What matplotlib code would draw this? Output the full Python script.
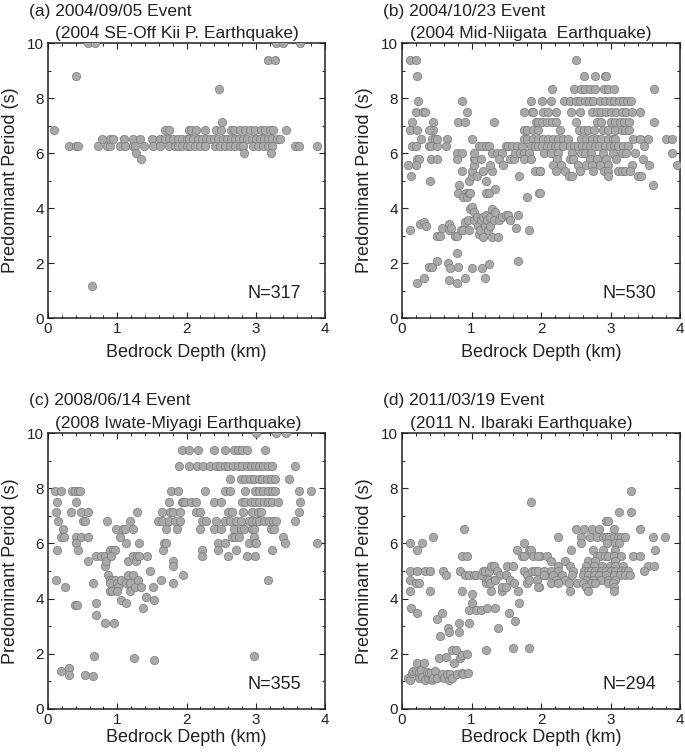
import matplotlib
matplotlib.use("Agg")
import matplotlib.pyplot as plt
from matplotlib.ticker import MultipleLocator

plt.rcParams['font.family'] = ['Liberation Sans', 'DejaVu Sans']

# (bedrock depth km, predominant period s)
pts_a = [
    (0.09, 6.82), (0.30, 6.25), (0.40, 6.25), (0.44, 6.25), (0.40, 8.82), (0.64, 1.15), (0.58, 10.0), (0.68, 10.0),
    (0.72, 6.25), (0.78, 6.52), (0.85, 6.25), (0.89, 6.25), (0.90, 6.52), (0.94, 6.52), (1.04, 6.25), (1.09, 6.52),
    (1.11, 6.25), (1.22, 6.25), (1.23, 6.52), (1.25, 6.25), (1.27, 6.0), (1.33, 6.52), (1.34, 5.77), (1.38, 6.25),
    (1.50, 6.52), (1.52, 6.25), (1.61, 6.52), (1.61, 6.25), (1.69, 6.52), (1.69, 6.82), (1.75, 6.52), (1.75, 6.82),
    (1.75, 6.25), (1.81, 6.52), (1.84, 6.25), (1.87, 6.52), (1.87, 6.25), (1.94, 6.52), (1.94, 6.25), (2.00, 6.52),
    (2.00, 6.25), (2.03, 6.82),
    (2.06, 6.82), (2.14, 6.82), (2.27, 6.82), (2.42, 6.82), (2.50, 6.82), (2.64, 6.82), (2.69, 6.82), (2.77, 6.82),
    (2.84, 6.82), (2.91, 6.82), (2.99, 6.82), (3.07, 6.82), (3.13, 6.82), (3.20, 6.82), (3.25, 6.82), (3.43, 6.82),
    (2.03, 6.52), (2.10, 6.52), (2.16, 6.52), (2.22, 6.52), (2.28, 6.52), (2.34, 6.52), (2.40, 6.52), (2.46, 6.52),
    (2.52, 6.52), (2.58, 6.52), (2.64, 6.52), (2.70, 6.52), (2.76, 6.52), (2.82, 6.52), (2.88, 6.52), (2.94, 6.52),
    (3.00, 6.52), (3.06, 6.52), (3.12, 6.52), (3.18, 6.52), (3.24, 6.52), (3.30, 6.52), (3.35, 6.52),
    (2.05, 6.25), (2.12, 6.25), (2.19, 6.25), (2.27, 6.25), (2.41, 6.25), (2.48, 6.25), (2.55, 6.25), (2.63, 6.25),
    (2.70, 6.25), (2.77, 6.25), (2.82, 6.25), (2.96, 6.25), (3.03, 6.25), (3.11, 6.25), (3.18, 6.25), (3.24, 6.25),
    (3.56, 6.25), (3.62, 6.25), (3.88, 6.25),
    (2.83, 6.0), (3.22, 6.0), (2.51, 7.14), (2.47, 8.33), (3.17, 9.38), (3.28, 9.38),
    (3.29, 10.0), (3.40, 10.0), (3.64, 10.0),
]

pts_b = [
    (0.12, 9.38), (0.20, 9.38), (0.21, 8.82), (0.23, 7.89), (0.20, 7.5), (0.30, 7.5), (0.33, 7.5), (0.14, 7.14),
    (0.12, 6.82), (0.22, 6.82), (0.14, 6.25), (0.20, 6.25), (0.27, 6.52), (0.21, 5.77), (0.24, 5.77), (0.20, 5.56),
    (0.09, 5.56), (0.13, 5.17), (0.45, 6.82), (0.39, 6.82), (0.45, 7.14), (0.43, 6.52), (0.47, 6.52), (0.39, 6.25),
    (0.42, 6.25), (0.51, 6.25), (0.50, 6.52), (0.42, 5.77), (0.51, 5.77), (0.40, 5.0), (0.65, 6.52), (0.63, 6.25),
    (0.12, 3.2), (0.26, 3.41), (0.31, 3.49), (0.34, 3.33), (0.21, 1.29), (0.31, 1.45), (0.39, 1.84), (0.43, 1.87),
    (0.50, 2.06), (0.50, 3.0), (0.55, 3.0), (0.57, 3.26), (0.67, 3.41), (0.68, 3.19), (0.71, 3.26), (0.76, 3.0),
    (0.79, 3.0), (0.66, 2.0), (0.69, 1.81), (0.67, 1.37), (0.79, 2.36), (0.80, 1.87), (0.79, 1.29), (0.90, 1.45),
    (0.80, 7.14), (0.87, 7.89), (0.91, 7.14), (0.93, 7.5), (0.79, 6.0), (0.87, 6.0), (0.79, 5.77), (0.82, 4.84),
    (0.80, 4.55), (0.92, 4.55), (0.87, 5.36), (0.88, 4.41), (0.93, 4.41), (0.96, 4.55), (0.98, 4.55), (0.96, 5.0),
    (1.00, 5.17), (1.01, 5.36), (1.03, 5.77), (1.04, 5.56), (1.05, 5.77), (1.08, 5.17), (1.00, 6.52), (1.04, 6.0),
    (1.11, 6.25), (1.15, 6.25), (1.21, 6.25), (1.25, 6.25), (1.14, 5.77), (1.17, 5.36), (1.21, 5.0), (1.21, 4.55),
    (1.25, 4.55), (1.30, 5.36), (1.27, 5.56), (1.29, 6.0), (1.32, 7.14), (1.34, 4.69), (1.37, 6.0), (1.44, 6.0),
    (1.39, 5.77), (1.46, 5.56), (1.49, 6.25), (1.53, 6.25), (1.58, 6.25), (1.65, 6.25), (1.56, 5.77), (1.61, 5.77),
    (1.63, 6.0), (1.69, 5.17), (1.73, 6.0), (1.70, 6.0),
    (0.85, 3.19), (0.88, 3.19), (0.91, 3.49), (0.95, 3.57), (0.96, 3.19), (0.98, 3.95), (1.00, 4.05), (1.03, 3.85),
    (1.04, 3.57), (1.08, 3.66), (1.09, 3.33), (1.11, 3.06), (1.12, 3.19), (1.14, 3.57), (1.16, 3.66), (1.17, 2.94),
    (1.20, 3.33), (1.21, 3.75), (1.22, 3.57), (1.24, 3.19), (1.26, 3.33), (1.27, 3.66), (1.29, 2.94), (1.30, 3.95),
    (1.32, 3.57), (1.34, 3.85), (1.38, 2.94), (1.40, 3.57), (1.44, 3.66), (1.49, 3.75), (1.52, 3.75), (1.56, 3.57),
    (1.64, 3.26), (1.67, 3.75), (1.82, 3.19), (1.80, 4.41), (1.97, 4.55), (1.67, 2.06), (1.01, 1.81), (1.15, 1.81),
    (1.20, 1.45), (1.25, 1.96),
    (1.73, 6.25), (1.75, 6.52), (1.80, 6.52), (1.76, 6.82), (1.80, 6.82), (1.76, 7.5), (1.86, 7.89), (1.87, 7.5),
    (1.89, 7.5), (1.93, 7.14), (1.89, 6.82), (1.89, 6.52), (1.85, 6.25), (1.92, 6.25), (1.76, 6.0), (1.82, 6.0),
    (1.76, 5.77), (1.85, 5.77), (1.92, 5.36), (1.98, 5.36),
    (2.51, 9.38), (2.62, 8.82), (2.77, 8.82), (2.92, 8.82), (2.94, 8.82),
    (2.16, 8.33), (2.48, 8.33), (2.57, 8.33), (2.63, 8.33), (2.70, 8.33), (2.78, 8.33), (2.91, 8.33), (2.97, 8.33),
    (3.05, 8.33), (3.63, 8.33),
    (2.01, 7.89), (2.15, 7.89), (2.33, 7.89), (2.41, 7.89), (2.50, 7.89), (2.56, 7.89), (2.63, 7.89), (2.69, 7.89),
    (2.75, 7.89), (2.85, 7.89), (2.92, 7.89), (2.99, 7.89), (3.05, 7.89), (3.12, 7.89), (3.18, 7.89), (3.24, 7.89),
    (3.29, 7.89),
    (2.03, 7.5), (2.10, 7.5), (2.21, 7.5), (2.43, 7.5), (2.56, 7.5), (2.73, 7.5), (2.80, 7.5), (2.87, 7.5),
    (2.94, 7.5), (3.01, 7.5), (3.08, 7.5), (3.16, 7.5), (3.23, 7.5), (3.31, 7.5), (3.43, 7.5),
    (1.96, 7.14), (2.01, 7.14), (2.08, 7.14), (2.16, 7.14), (2.22, 7.14), (2.51, 7.14), (2.81, 7.14), (2.87, 7.14),
    (3.00, 7.14), (3.07, 7.14), (3.13, 7.14), (3.20, 7.14), (3.26, 7.14), (3.63, 7.14),
    (1.96, 6.82), (2.27, 6.82), (2.54, 6.82), (2.62, 6.82), (2.68, 6.82), (2.76, 6.82), (2.89, 6.82), (2.96, 6.82),
    (3.06, 6.82), (3.16, 6.82), (3.21, 6.82), (3.26, 6.82),
    (1.96, 6.52), (2.03, 6.52), (2.10, 6.52), (2.17, 6.52), (2.25, 6.52), (2.32, 6.52), (2.39, 6.52), (2.58, 6.52),
    (2.65, 6.52), (2.73, 6.52), (2.80, 6.52), (2.87, 6.52), (2.96, 6.52), (3.04, 6.52), (3.07, 6.52), (3.32, 6.52),
    (3.42, 6.52), (3.54, 6.52), (3.80, 6.52), (3.88, 6.52),
    (1.96, 6.25), (2.01, 6.25), (2.08, 6.25), (2.14, 6.25), (2.20, 6.25), (2.25, 6.25), (2.32, 6.25), (2.41, 6.25),
    (2.48, 6.25), (2.53, 6.25), (2.59, 6.25), (2.65, 6.25), (2.71, 6.25), (2.78, 6.25), (2.84, 6.25), (2.92, 6.25),
    (2.99, 6.25), (3.05, 6.25), (3.11, 6.25), (3.18, 6.25), (3.25, 6.25), (3.48, 6.25),
    (2.04, 6.0), (2.15, 6.0), (2.25, 6.0), (2.44, 6.0), (2.58, 6.0), (2.64, 6.0), (2.72, 6.0), (2.89, 6.0),
    (3.04, 6.0), (3.16, 6.0), (3.23, 6.0), (3.35, 6.0), (3.88, 6.0),
    (2.23, 5.77), (2.41, 5.77), (2.46, 5.77), (2.70, 5.77), (2.80, 5.77), (2.94, 5.77), (3.08, 5.77), (3.47, 5.77),
    (2.17, 5.56), (2.29, 5.56), (2.53, 5.56), (2.65, 5.56), (2.73, 5.56), (2.85, 5.56), (2.96, 5.56), (3.31, 5.56),
    (3.56, 5.56), (3.96, 5.56),
    (1.98, 5.36), (2.22, 5.36), (2.34, 5.36), (2.56, 5.36), (2.75, 5.36), (2.90, 5.36), (2.97, 5.36), (3.11, 5.36),
    (3.16, 5.36), (3.21, 5.36), (3.28, 5.36),
    (2.40, 5.17), (2.45, 5.17), (2.96, 5.17), (3.40, 5.17), (3.44, 5.17), (3.61, 4.84), (1.98, 4.55),
]

pts_c = [
    (0.10, 7.89), (0.19, 7.89), (0.13, 7.5), (0.12, 7.14), (0.14, 6.82), (0.21, 6.52), (0.19, 6.25), (0.23, 6.25),
    (0.13, 5.77), (0.11, 4.69), (0.25, 4.41), (0.34, 7.89), (0.39, 7.89), (0.43, 7.89), (0.46, 7.89), (0.40, 7.5),
    (0.33, 7.14), (0.48, 7.14), (0.41, 6.25), (0.48, 6.25), (0.41, 6.0), (0.44, 5.77), (0.50, 6.82), (0.53, 6.82),
    (0.58, 7.14), (0.58, 6.25), (0.58, 5.36),
    (0.39, 3.75), (0.42, 3.75), (0.19, 1.39), (0.30, 1.47), (0.30, 1.23), (0.53, 1.23), (0.65, 1.19), (0.67, 1.93),
    (0.65, 4.55), (0.69, 3.85), (0.69, 3.41),
    (0.70, 5.56), (0.76, 5.56), (0.82, 5.56), (0.83, 5.17), (0.84, 5.36), (0.85, 6.82), (0.87, 4.84), (0.89, 5.77),
    (0.94, 5.77), (0.96, 5.77), (0.91, 5.56), (0.89, 4.69), (0.93, 4.69), (0.96, 4.69), (0.90, 4.55), (0.89, 4.29),
    (0.93, 4.29), (0.98, 6.52), (1.00, 4.55), (1.01, 4.41), (1.04, 6.25), (1.00, 4.29), (1.05, 4.69), (1.06, 3.95),
    (1.08, 6.52), (1.11, 6.52), (1.12, 4.55), (1.12, 3.85), (1.12, 6.0), (1.16, 5.36), (1.16, 4.84), (1.19, 4.55),
    (1.19, 6.82), (1.18, 4.29), (1.22, 6.52), (1.23, 5.56), (1.23, 4.84), (1.25, 4.41), (1.27, 5.36), (1.28, 5.56),
    (1.29, 7.14), (1.30, 4.69), (1.32, 5.56), (1.34, 4.41), (1.32, 6.0), (1.37, 3.66), (1.42, 4.05), (1.43, 5.56),
    (1.47, 5.0), (1.52, 4.41), (1.53, 3.95), (1.53, 1.77), (1.24, 1.86), (0.95, 3.13), (0.83, 3.13),
    (1.63, 4.69), (1.59, 6.82), (1.64, 6.82), (1.65, 7.14), (1.66, 5.77), (1.67, 6.0), (1.71, 6.0), (1.70, 6.52),
    (1.74, 6.82), (1.74, 7.5), (1.76, 7.14), (1.78, 7.89), (1.80, 7.14), (1.81, 5.36), (1.81, 5.17), (1.81, 4.55),
    (1.83, 6.82), (1.86, 6.52), (1.88, 7.89), (1.90, 6.82), (1.90, 7.14), (1.93, 7.5), (1.95, 7.5), (1.95, 4.84),
    (1.89, 8.82), (1.93, 9.38),
    (2.04, 9.38), (2.16, 9.38), (2.40, 9.38), (2.55, 9.38), (2.69, 9.38), (2.75, 9.38), (2.80, 9.38), (2.87, 9.38),
    (3.14, 9.38),
    (2.04, 8.82), (2.15, 8.82), (2.24, 8.82), (2.34, 8.82), (2.42, 8.82), (2.48, 8.82), (2.55, 8.82), (2.60, 8.82),
    (2.67, 8.82), (2.74, 8.82), (2.80, 8.82), (2.87, 8.82), (2.93, 8.82), (2.99, 8.82), (3.05, 8.82), (3.11, 8.82),
    (3.17, 8.82), (3.23, 8.82), (3.56, 8.82),
    (2.63, 8.33), (2.79, 8.33), (2.85, 8.33), (2.92, 8.33), (2.98, 8.33), (3.04, 8.33), (3.09, 8.33), (3.16, 8.33),
    (3.22, 8.33), (3.28, 8.33), (3.48, 8.33),
    (2.27, 7.89), (2.56, 7.89), (2.63, 7.89), (2.84, 7.89), (2.99, 7.89), (3.05, 7.89), (3.11, 7.89), (3.17, 7.89),
    (3.23, 7.89), (3.28, 7.89), (3.62, 7.89), (3.80, 7.89),
    (1.98, 7.5), (2.07, 7.5), (2.13, 7.5), (2.39, 7.5), (2.50, 7.5), (2.80, 7.5), (2.85, 7.5), (2.93, 7.5),
    (2.99, 7.5), (3.05, 7.5), (3.12, 7.5), (3.18, 7.5), (3.24, 7.5), (3.32, 7.5), (3.64, 7.5),
    (2.13, 7.14), (2.20, 7.14), (2.60, 7.14), (2.66, 7.14), (2.82, 7.14), (2.94, 7.14), (3.03, 7.14), (3.08, 7.14),
    (3.63, 7.14),
    (2.23, 6.82), (2.28, 6.82), (2.42, 6.82), (2.55, 6.82), (2.63, 6.82), (2.71, 6.82), (2.79, 6.82), (2.90, 6.82),
    (2.94, 6.82), (3.00, 6.82), (3.05, 6.82), (3.12, 6.82), (3.19, 6.82), (3.25, 6.82), (3.29, 6.82), (3.57, 6.82),
    (2.20, 6.52), (2.39, 6.52), (2.50, 6.52), (2.69, 6.52), (2.79, 6.52), (2.83, 6.52), (2.94, 6.52), (2.98, 6.52),
    (3.22, 6.52), (3.27, 6.52),
    (2.65, 6.25), (2.70, 6.25), (2.76, 6.25), (2.97, 6.25), (3.40, 6.25),
    (2.45, 6.0), (2.55, 6.0), (2.90, 6.0), (2.99, 6.0), (3.01, 6.0), (3.42, 6.0), (3.88, 6.0),
    (2.23, 5.77), (2.45, 5.77), (2.72, 5.77), (3.23, 5.77),
    (2.23, 5.56), (2.60, 5.56), (2.87, 5.56), (2.99, 5.56),
    (3.18, 4.69), (2.97, 1.93), (3.01, 10.0), (3.29, 10.0), (3.44, 10.0),
]

pts_d = [
    (0.09, 1.11), (0.12, 1.05), (0.14, 1.29), (0.16, 1.38), (0.20, 1.43), (0.21, 1.67), (0.24, 1.11), (0.25, 1.35),
    (0.27, 1.43), (0.29, 1.17), (0.32, 1.67), (0.33, 1.05), (0.36, 1.35), (0.38, 1.11), (0.39, 1.31), (0.42, 1.29),
    (0.43, 1.05), (0.45, 1.11), (0.48, 1.38), (0.50, 1.11), (0.57, 1.25), (0.61, 1.11), (0.64, 1.25), (0.67, 1.05),
    (0.69, 1.25), (0.72, 1.11), (0.79, 1.25), (0.86, 1.31), (0.88, 1.25), (0.95, 1.29),
    (0.53, 1.86), (0.63, 1.89), (0.72, 2.13), (0.78, 2.15), (0.75, 1.65), (0.84, 1.86), (0.87, 1.95), (0.93, 2.01),
    (0.51, 3.27), (0.55, 2.63), (0.57, 3.47), (0.66, 2.94), (0.68, 2.79), (0.82, 3.11), (0.82, 2.80), (0.97, 3.11),
    (0.97, 3.57), (1.00, 3.83), (1.01, 4.17), (1.07, 3.57), (1.13, 3.57), (1.21, 2.15), (1.22, 3.66), (1.34, 3.66),
    (1.38, 2.94), (1.44, 4.29), (1.54, 3.49), (1.63, 3.19), (1.69, 3.83), (1.59, 2.22), (1.82, 2.22),
    (0.11, 6.0), (0.22, 5.75), (0.29, 6.0), (0.45, 6.25),
    (0.11, 5.0), (0.22, 5.0), (0.33, 5.0), (0.40, 5.0), (0.59, 5.0), (0.84, 5.0), (0.90, 4.84), (0.96, 4.84),
    (0.11, 4.69), (0.20, 4.55), (0.24, 4.55), (0.11, 4.29), (0.40, 4.29), (0.13, 3.66), (0.22, 3.49), (0.63, 4.84),
    (0.86, 4.29), (0.86, 5.56), (0.94, 5.56), (0.89, 6.52),
    (1.03, 4.84), (1.06, 4.84), (1.13, 4.84), (1.16, 5.0), (1.20, 5.0), (1.25, 5.0), (1.28, 5.17), (1.32, 5.17),
    (1.37, 5.0), (1.41, 4.84), (1.49, 4.84), (1.51, 5.17), (1.59, 5.17), (1.75, 5.0), (1.80, 4.84), (1.87, 5.0),
    (1.92, 5.0), (2.04, 4.84), (2.07, 4.84),
    (1.21, 4.69), (1.21, 4.55), (1.25, 4.69), (1.32, 4.69), (1.28, 4.29), (1.27, 4.55), (1.34, 4.69), (1.44, 4.41),
    (1.49, 4.41), (1.56, 4.69), (1.61, 4.55), (1.67, 4.29), (1.80, 4.55), (1.97, 4.41), (1.94, 4.69), (1.83, 4.69),
    (1.65, 5.77), (1.75, 6.0), (1.73, 5.56), (1.76, 5.56), (1.82, 5.77), (1.86, 5.77), (1.89, 5.56), (1.98, 5.56),
    (1.85, 7.5),
    (3.29, 7.89), (3.12, 7.14), (3.30, 7.14), (2.94, 6.82), (2.97, 6.82),
    (2.50, 6.52), (2.62, 6.52), (2.73, 6.52), (2.84, 6.52), (3.05, 6.52), (3.43, 6.52),
    (2.25, 6.25), (2.57, 6.25), (2.70, 6.25), (2.80, 6.25), (2.89, 6.25), (2.94, 6.25), (2.98, 6.25), (3.05, 6.25),
    (3.11, 6.25), (3.15, 6.25), (3.21, 6.25), (3.61, 6.25), (3.79, 6.25),
    (2.57, 6.0), (2.95, 6.0), (3.06, 6.0), (3.12, 6.0),
    (2.43, 5.77), (2.75, 5.77), (2.89, 5.77), (3.07, 5.77), (3.64, 5.77),
    (1.96, 5.56), (2.08, 5.56), (2.80, 5.56), (2.85, 5.56), (2.92, 5.56), (2.96, 5.56), (3.05, 5.56), (3.15, 5.56),
    (3.32, 5.56), (3.42, 5.56),
    (2.15, 5.36), (2.34, 5.36), (2.68, 5.36), (2.77, 5.36), (3.06, 5.36),
    (2.25, 5.17), (2.41, 5.17), (2.65, 5.17), (2.76, 5.17), (2.88, 5.17), (2.99, 5.17), (3.06, 5.17), (3.18, 5.17),
    (3.54, 5.17), (3.63, 5.17),
    (1.96, 5.0), (2.05, 5.0), (2.15, 5.0), (2.25, 5.0), (2.46, 5.0), (2.62, 5.0), (2.67, 5.0), (2.72, 5.0),
    (2.78, 5.0), (2.86, 5.0), (2.94, 5.0), (3.00, 5.0), (3.07, 5.0), (3.15, 5.0), (3.21, 5.0), (3.25, 5.0),
    (3.48, 5.0),
    (2.04, 4.84), (2.17, 4.84), (2.30, 4.84), (2.44, 4.84), (2.60, 4.84), (2.68, 4.84), (2.76, 4.84), (2.84, 4.84),
    (2.94, 4.84), (3.05, 4.84), (3.13, 4.84), (3.21, 4.84), (3.28, 4.84),
    (2.22, 4.69), (2.34, 4.69), (2.65, 4.69), (2.75, 4.69), (2.86, 4.69), (2.97, 4.69), (3.07, 4.69),
    (2.14, 4.55), (2.25, 4.55), (2.40, 4.55), (2.52, 4.55), (2.61, 4.55), (2.72, 4.55), (2.78, 4.55), (2.96, 4.55),
    (3.04, 4.55),
    (1.96, 4.41), (2.65, 4.41), (3.05, 4.41), (2.41, 4.29), (2.68, 4.29), (3.05, 4.29),
]

titles = ['(a) 2004/09/05 Event', '(b) 2004/10/23 Event', '(c) 2008/06/14 Event', '(d) 2011/03/19 Event']
subtitles = ['(2004 SE-Off Kii P. Earthquake)', '(2004 Mid-Niigata  Earthquake)',
             '(2008 Iwate-Miyagi Earthquake)', '(2011 N. Ibaraki Earthquake)']
counts = ['N=317', 'N=530', 'N=355', 'N=294']
panels = [pts_a, pts_b, pts_c, pts_d]

rects = [[0.0701, 0.5782, 0.4044, 0.3647],
         [0.5869, 0.5782, 0.4058, 0.3647],
         [0.0701, 0.0597, 0.4044, 0.3660],
         [0.5869, 0.0597, 0.4058, 0.3660]]
# label / title offsets (axes fraction) for top and bottom rows
xlab_y = [-0.093, -0.093, -0.072, -0.072]
sub_y = [1.036, 1.036, 1.036, 1.036]
tit_y = [1.115, 1.115, 1.118, 1.118]

fig = plt.figure(figsize=(6.85, 7.54), dpi=100)

for i in range(4):
    ax = fig.add_axes(rects[i])
    xs = [p[0] for p in panels[i]]
    ys = [p[1] for p in panels[i]]
    ax.scatter(xs, ys, s=36, facecolor='#a9a9a9', edgecolor='#7d7d7d', linewidths=0.5, zorder=3)

    ax.set_xlim(0, 4)
    ax.set_ylim(0, 10)
    ax.xaxis.set_major_locator(MultipleLocator(1))
    ax.xaxis.set_minor_locator(MultipleLocator(0.2))
    ax.yaxis.set_major_locator(MultipleLocator(2))
    ax.yaxis.set_minor_locator(MultipleLocator(1))
    ax.tick_params(which='both', direction='in', top=True, right=True, labelsize=11, colors='#222222')
    ax.tick_params(which='major', length=4, width=0.8, pad=3)
    ax.tick_params(which='minor', length=2.5, width=0.7)
    for sp in ax.spines.values():
        sp.set_linewidth(1.1)
        sp.set_color('#222222')

    ax.set_xlabel('Bedrock Depth (km)', fontsize=13, color='#222222')
    ax.set_ylabel('Predominant Period (s)', fontsize=13, color='#222222')
    ax.xaxis.set_label_coords(0.5, xlab_y[i])
    ax.yaxis.set_label_coords(-0.105, 0.5)

    ax.text(-0.069, tit_y[i], titles[i], transform=ax.transAxes, fontsize=12.5,
            ha='left', va='center', color='#222222')
    ax.text(0.027, sub_y[i], subtitles[i], transform=ax.transAxes, fontsize=12.5,
            ha='left', va='center', color='#222222')
    ax.text(0.915, 0.09, counts[i], transform=ax.transAxes, fontsize=13,
            ha='right', va='center', color='#222222')

fig.savefig('out.png', dpi=100)
